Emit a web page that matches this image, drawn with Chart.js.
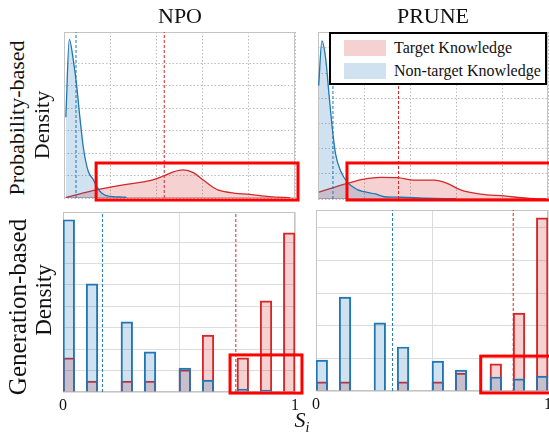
<!DOCTYPE html>
<html><head><meta charset="utf-8">
<script src="https://cdn.jsdelivr.net/npm/chart.js@4.4.1/dist/chart.umd.min.js"></script>
<style>
html,body{margin:0;padding:0;background:#fff;width:549px;height:435px;overflow:hidden;position:relative;font-family:'Liberation Serif','Times New Roman',serif;color:#111;}
canvas{position:absolute;}
.t{position:absolute;white-space:nowrap;line-height:1;}
.leg{position:absolute;left:329px;top:32px;width:214px;height:49px;border:2px solid #000;background:#fff;font-size:16px;}
.sw{position:absolute;left:13px;width:42px;height:16px;}
.lt{position:absolute;left:63px;line-height:16px;white-space:nowrap;}
</style></head><body>
<script>
// ---------- data ----------
const methods = ['NPO', 'PRUNE'];
const rowLabels = [['Probability-based', 'Density'], ['Generation-based', 'Density']];
const seriesNames = ['Target Knowledge', 'Non-target Knowledge'];
const xTickLabels = ['0', '1'];
const xAxisLabel = 'S';
const xAxisSub = 'i';

// probability-based density curves (KDE)
const npoProbTargetX = [0.009, 0.14, 0.27, 0.372, 0.43, 0.473, 0.516, 0.56, 0.603, 0.66, 0.72, 0.805, 0.89, 0.98];
const npoProbTargetY = [0.03, 0.36, 0.61, 0.77, 0.98, 1.16, 1.25, 1.13, 0.80, 0.39, 0.24, 0.16, 0.06, 0.01];
const npoProbNonX = [0.008, 0.023, 0.04, 0.055, 0.069, 0.084, 0.105, 0.127, 0.141, 0.163, 0.192, 0.255, 0.27];
const npoProbNonY = [3.6, 7.07, 6.17, 4.99, 3.57, 2.23, 1.19, 0.82, 0.52, 0.22, 0.08, 0.04, 0.03];
const pruneProbTargetX = [0.004, 0.127, 0.2, 0.272, 0.345, 0.417, 0.504, 0.562, 0.62, 0.707, 0.81, 0.91, 0.99];
const pruneProbTargetY = [0.27, 0.62, 0.79, 0.86, 0.85, 0.75, 0.75, 0.62, 0.36, 0.19, 0.12, 0.03, 0.0];
const pruneProbNonX = [0.003, 0.017, 0.033, 0.048, 0.062, 0.077, 0.099, 0.127, 0.171, 0.2, 0.25, 0.287, 0.36, 0.47, 0.6];
const pruneProbNonY = [4.5, 6.28, 5.6, 4.14, 2.82, 1.76, 1.10, 0.67, 0.37, 0.29, 0.2, 0.09, 0.07, 0.03, 0.01];

// generation-based density histograms (20 bins of width 0.05)
const binCenters = [0.025, 0.075, 0.125, 0.175, 0.225, 0.275, 0.325, 0.375, 0.425, 0.475,
                    0.525, 0.575, 0.625, 0.675, 0.725, 0.775, 0.825, 0.875, 0.925, 0.975];
const npoGenTarget = [1.59, null, 0.51, null, null, 0.51, null, 0.51, null, null,
                      1.03, null, 2.66, null, null, 1.59, null, 4.25, null, 7.43];
const npoGenNon    = [8.04, null, 5.05, null, null, 3.27, null, 1.87, null, null,
                      1.12, null, 0.56, null, null, 0.14, null, 0.09, null, null];
const pruneGenTarget = [0.28, null, 0.28, null, null, null, null, 0.28, null, null,
                        0.28, null, 0.55, null, null, 0.83, null, 2.39, null, 5.31];
const pruneGenNon    = [0.95, null, 2.88, null, null, 2.09, null, 1.35, null, null,
                        0.92, null, 0.64, null, null, 0.43, null, 0.37, null, 0.46];

// mean markers (dashed vertical lines)
const probMeanTarget = [0.434, 0.35];
const probMeanNon = [0.052, 0.065];
const genMeanTarget = [0.745, 0.85];
const genMeanNon = [0.17, 0.33];

// axis ranges
const probYMax = [7.4, 6.63];
const genYMax = [8.4, 5.55];

// highlighted regions [x0, x1, y0, y1] in data units
const probHighlight = [[0.139, 1.013, -0.09, 1.56], [0.126, 1.02, -0.04, 1.43]];
const genHighlight = [[0.72, 1.03, -0.05, 1.73], [0.71, 1.02, -0.06, 1.07]];

// ---------- styling / layout ----------
const RED = '#d62728', BLUE = '#1f77b4';
const RED_FILL = 'rgba(214,39,40,0.21)', BLUE_FILL = 'rgba(31,119,180,0.21)';
const plotRects = [
  [{l: 64, t: 32, r: 295, b: 198}, {l: 318, t: 32, r: 548, b: 199}],
  [{l: 63, t: 212, r: 295, b: 392}, {l: 316, t: 210, r: 548, b: 391}]
];
const PAD = {left: 12, right: 12, top: 8, bottom: 8};
const X_AXIS_H = [0, 28];

const framePlugin = {
  id: 'frame',
  beforeDatasetsDraw(chart) {
    const a = chart.chartArea, ctx = chart.ctx;
    ctx.save();
    ctx.strokeStyle = '#c4c4c4';
    ctx.lineWidth = 1;
    ctx.strokeRect(Math.round(a.left) + 0.5, Math.round(a.top) + 0.5, Math.round(a.right - a.left) - 1, Math.round(a.bottom - a.top) - 1);
    ctx.restore();
  }
};
const highlightPlugin = {
  id: 'highlight',
  afterDraw(chart, args, opts) {
    const b = opts.box; if (!b) return;
    const xs = chart.scales.x, ys = chart.scales.y, ctx = chart.ctx;
    const x0 = xs.getPixelForValue(b[0]), x1 = xs.getPixelForValue(b[1]);
    const y0 = ys.getPixelForValue(b[2]), y1 = ys.getPixelForValue(b[3]);
    ctx.save();
    ctx.strokeStyle = '#ff0000';
    ctx.lineWidth = 3;
    ctx.strokeRect(x0, y1, x1 - x0, y0 - y1);
    ctx.restore();
  }
};

function pts(xs, ys) { return xs.map((x, i) => ({x: x, y: ys[i]})); }
function vline(x, ymax) { return [{x: x, y: 0}, {x: x, y: ymax}]; }

function makeCanvas(rect, row) {
  const c = document.createElement('canvas');
  const w = rect.r - rect.l + PAD.left + PAD.right;
  const h = rect.b - rect.t + PAD.top + PAD.bottom + X_AXIS_H[row];
  c.width = w; c.height = h;
  c.style.width = w + 'px'; c.style.height = h + 'px';
  c.style.left = (rect.l - PAD.left) + 'px';
  c.style.top = (rect.t - PAD.top) + 'px';
  document.body.appendChild(c);
  return c;
}

function scalesFor(row, ymax) {
  const top = row === 0;
  const gridColor = top ? '#bdbdbd' : '#dcdcdc';
  const dash = top ? [1.5, 2] : [];
  return {
    x: {
      type: 'linear', min: 0, max: 1, offset: false,
      grid: {offset: false, color: gridColor, lineWidth: 1, drawTicks: false},
      border: {display: false, dash: dash},
      ticks: {
        display: !top, stepSize: top ? 0.2 : 0.5, autoSkip: false, maxRotation: 0,
        padding: 4, color: '#111',
        font: {family: "'Liberation Serif', serif", size: 16},
        callback: v => (v === 0 ? xTickLabels[0] : (v === 1 ? xTickLabels[1] : ''))
      },
      afterFit: s => { s.height = X_AXIS_H[row]; }
    },
    y: {
      type: 'linear', min: 0, max: ymax,
      grid: {color: gridColor, lineWidth: 1, drawTicks: false},
      border: {display: false, dash: dash},
      ticks: {display: false, stepSize: 1},
      afterFit: s => { s.width = 0; }
    }
  };
}

function baseOptions(row, ymax, box) {
  return {
    responsive: false, animation: false, devicePixelRatio: 1,
    layout: {padding: PAD},
    events: [],
    plugins: {legend: {display: false}, tooltip: {enabled: false}, highlight: {box: box}},
    scales: scalesFor(row, ymax)
  };
}

const probData = [
  {tx: npoProbTargetX, ty: npoProbTargetY, nx: npoProbNonX, ny: npoProbNonY},
  {tx: pruneProbTargetX, ty: pruneProbTargetY, nx: pruneProbNonX, ny: pruneProbNonY}
];
const genData = [
  {t: npoGenTarget, n: npoGenNon},
  {t: pruneGenTarget, n: pruneGenNon}
];

for (let col = 0; col < 2; col++) {
  // probability-based row
  const ymaxP = probYMax[col];
  new Chart(makeCanvas(plotRects[0][col], 0), {
    type: 'line',
    data: {datasets: [
      {data: vline(probMeanTarget[col], ymaxP), borderColor: RED, borderWidth: 1, borderDash: [3, 2], pointRadius: 0, fill: false},
      {data: vline(probMeanNon[col], ymaxP), borderColor: BLUE, borderWidth: 1, borderDash: [3, 2], pointRadius: 0, fill: false},
      {label: seriesNames[1], data: pts(probData[col].nx, probData[col].ny), borderColor: BLUE, backgroundColor: BLUE_FILL,
       borderWidth: 1.3, pointRadius: 0, fill: 'origin', cubicInterpolationMode: 'monotone'},
      {label: seriesNames[0], data: pts(probData[col].tx, probData[col].ty), borderColor: RED, backgroundColor: RED_FILL,
       borderWidth: 1.3, pointRadius: 0, fill: 'origin', cubicInterpolationMode: 'monotone'}
    ]},
    options: baseOptions(0, ymaxP, probHighlight[col]),
    plugins: [framePlugin, highlightPlugin]
  });

  // generation-based row
  const ymaxG = genYMax[col];
  new Chart(makeCanvas(plotRects[1][col], 1), {
    type: 'bar',
    data: {datasets: [
      {type: 'line', data: vline(genMeanTarget[col], ymaxG), borderColor: RED, borderWidth: 1, borderDash: [3, 2], pointRadius: 0, fill: false},
      {type: 'line', data: vline(genMeanNon[col], ymaxG), borderColor: BLUE, borderWidth: 1, borderDash: [3, 2], pointRadius: 0, fill: false},
      {label: seriesNames[1], data: pts(binCenters, genData[col].n), borderColor: BLUE, backgroundColor: BLUE_FILL,
       borderWidth: 1.3, grouped: false, barPercentage: 1, categoryPercentage: 1},
      {label: seriesNames[0], data: pts(binCenters, genData[col].t), borderColor: RED, backgroundColor: RED_FILL,
       borderWidth: 1.3, grouped: false, barPercentage: 1, categoryPercentage: 1}
    ]},
    options: baseOptions(1, ymaxG, genHighlight[col]),
    plugins: [framePlugin, highlightPlugin]
  });
}

// ---------- text ----------
function addText(txt, cx, cy, size, extra) {
  const d = document.createElement('div');
  d.className = 't';
  d.textContent = txt;
  d.style.fontSize = size + 'px';
  d.style.left = cx + 'px';
  d.style.top = cy + 'px';
  d.style.transform = 'translate(-50%,-50%)' + (extra || '');
  document.body.appendChild(d);
  return d;
}
// column titles
addText(methods[0], 180, 16, 22);
addText(methods[1], 433, 16, 22);
// row labels (rotated)
addText(rowLabels[0][0], 17, 118, 22, ' rotate(-90deg)');
addText(rowLabels[0][1], 42, 125, 22, ' rotate(-90deg)');
addText(rowLabels[1][0], 17, 307, 25, ' rotate(-90deg)');
addText(rowLabels[1][1], 43, 300, 23, ' rotate(-90deg)');
// x-axis label
const xl = document.createElement('div');
xl.className = 't';
xl.style.left = '302px'; xl.style.top = '422px';
xl.style.fontSize = '22px';
xl.style.transform = 'translate(-50%,-50%)';
xl.innerHTML = '<i>' + xAxisLabel + '<sub style="font-size:14px">' + xAxisSub + '</sub></i>';
document.body.appendChild(xl);

// legend
const leg = document.createElement('div');
leg.className = 'leg';
const legColors = [RED_FILL, BLUE_FILL];
seriesNames.forEach((name, i) => {
  const sw = document.createElement('div');
  sw.className = 'sw';
  sw.style.top = (6 + i * 23) + 'px';
  sw.style.background = legColors[i];
  leg.appendChild(sw);
  const lt = document.createElement('div');
  lt.className = 'lt';
  lt.style.top = (6 + i * 23) + 'px';
  lt.textContent = name;
  leg.appendChild(lt);
});
document.body.appendChild(leg);
</script>
</body></html>
